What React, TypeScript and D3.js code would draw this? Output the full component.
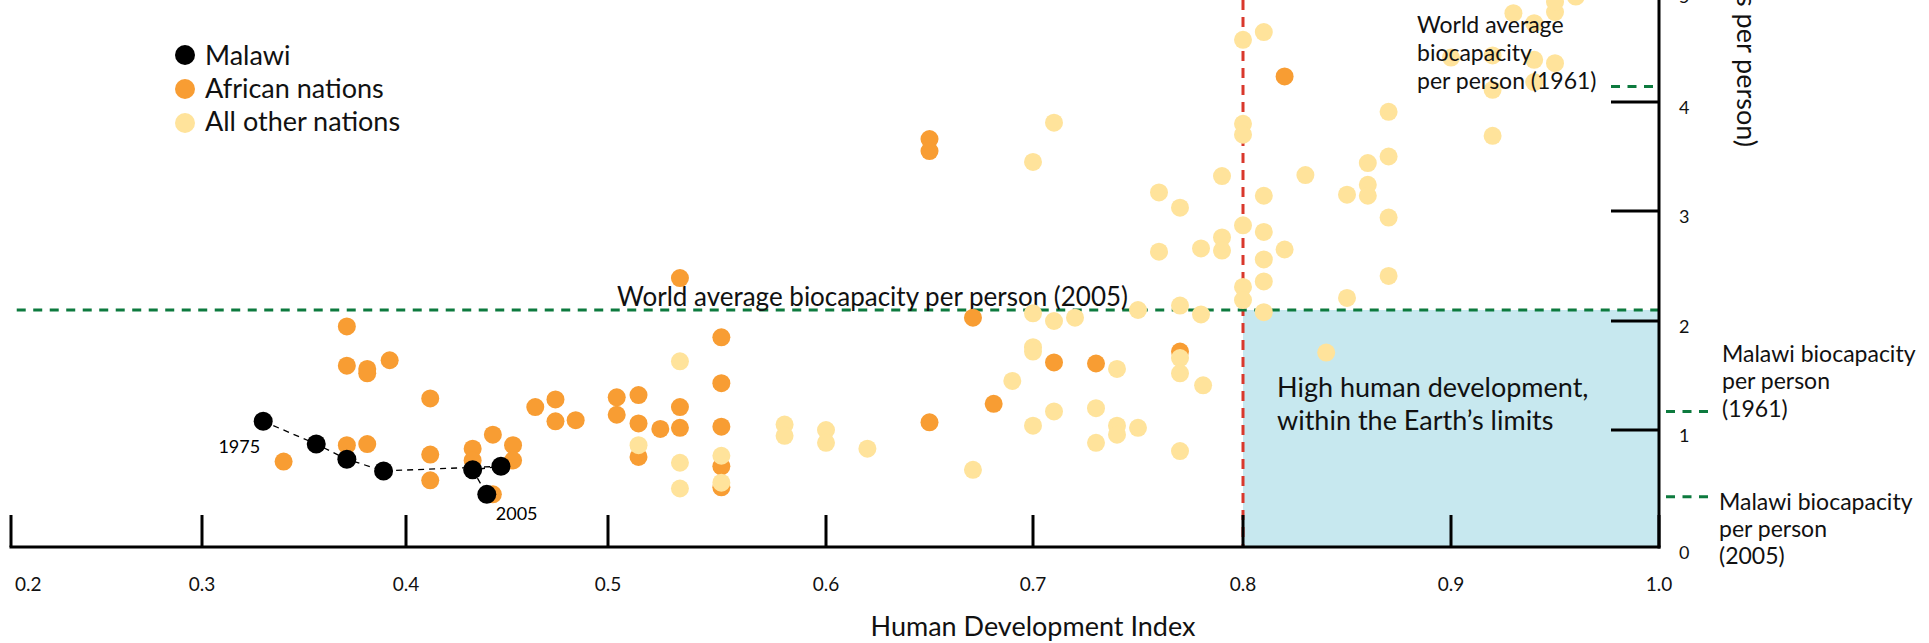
import React from "react";
import * as d3 from "d3";

const X_TICKS = [0.2, 0.3, 0.4, 0.5, 0.6, 0.7, 0.8, 0.9, 1.0];
const X_TICK_LABELS = ["0.2", "0.3", "0.4", "0.5", "0.6", "0.7", "0.8", "0.9", "1.0"];
const Y_TICKS = [0, 1, 2, 3, 4, 5];
const Y_TICK_LABELS = ["0", "1", "2", "3", "4", "5"];

const MALAWI_YEARS = [1975, 1980, 1985, 1990, 1995, 2000, 2005];
const MALAWI_HDI = [0.33, 0.356, 0.371, 0.389, 0.447, 0.433, 0.44];
const MALAWI_EF = [1.08, 0.88, 0.75, 0.65, 0.69, 0.66, 0.45];

const AFRICAN: [number, number][] = [
  [0.371, 1.95], [0.371, 1.59], [0.381, 1.56], [0.381, 1.52], [0.392, 1.64], [0.412, 1.29],
  [0.34, 0.73], [0.371, 0.87], [0.381, 0.88], [0.412, 0.79], [0.412, 0.57], [0.433, 0.84],
  [0.433, 0.74], [0.443, 0.96], [0.453, 0.87], [0.453, 0.74], [0.443, 0.45], [0.464, 1.21],
  [0.474, 1.28], [0.474, 1.08], [0.484, 1.09], [0.504, 1.3], [0.504, 1.14], [0.514, 1.32],
  [0.514, 1.06], [0.524, 1.01], [0.533, 1.21], [0.533, 1.02], [0.514, 0.77], [0.533, 2.39],
  [0.552, 1.85], [0.552, 1.43], [0.552, 1.03], [0.552, 0.69], [0.552, 0.51], [0.65, 1.07],
  [0.671, 2.03], [0.681, 1.24], [0.71, 1.62], [0.73, 1.61], [0.77, 1.72], [0.65, 3.66],
  [0.65, 3.55], [0.82, 4.23],
];

const OTHERS: [number, number][] = [
  [0.514, 0.87], [0.533, 1.63], [0.533, 0.72], [0.533, 0.5], [0.552, 0.78], [0.552, 0.55],
  [0.581, 1.05], [0.581, 0.95], [0.6, 1.0], [0.6, 0.89], [0.62, 0.84], [0.671, 0.66],
  [0.69, 1.45], [0.7, 2.07], [0.7, 1.76], [0.7, 1.72], [0.7, 1.04], [0.71, 2.0], [0.71, 1.17],
  [0.72, 2.03], [0.73, 1.2], [0.73, 0.89], [0.74, 1.56], [0.74, 1.04], [0.74, 0.96],
  [0.75, 1.02], [0.75, 2.1], [0.77, 1.66], [0.77, 1.52], [0.77, 0.82], [0.77, 2.14],
  [0.781, 1.41], [0.76, 3.17], [0.77, 3.03], [0.79, 3.32], [0.8, 3.8], [0.8, 3.7],
  [0.81, 3.14], [0.8, 2.87], [0.81, 2.81], [0.76, 2.63], [0.78, 2.66], [0.79, 2.76],
  [0.79, 2.64], [0.81, 2.56], [0.82, 2.65], [0.81, 2.36], [0.8, 2.31], [0.8, 2.19],
  [0.81, 2.08], [0.8, 4.56], [0.81, 4.63], [0.87, 3.91], [0.83, 3.33], [0.86, 3.44],
  [0.87, 3.5], [0.85, 3.15], [0.86, 3.24], [0.86, 3.14], [0.87, 2.94], [0.87, 2.41],
  [0.85, 2.21], [0.78, 2.06], [0.71, 3.81], [0.7, 3.45], [0.9, 4.4], [0.92, 4.42],
  [0.94, 4.38], [0.95, 4.35], [0.94, 4.18], [0.92, 4.11], [0.92, 3.69], [0.93, 4.8],
  [0.94, 4.71], [0.95, 4.81], [0.95, 4.9], [0.96, 4.95], [0.84, 1.71],
];

const WORLD_BIOCAP_2005 = 2.1;
const WORLD_BIOCAP_1961 = 4.14;
const MALAWI_BIOCAP_1961 = 1.17;
const MALAWI_BIOCAP_2005 = 0.43;
const HIGH_HDI = 0.8;

const LEGEND = [
  { label: "Malawi", color: "#000000" },
  { label: "African nations", color: "#f89d33" },
  { label: "All other nations", color: "#ffe39b" },
];

const FONT = "Lato, 'Open Sans', sans-serif";
const GREEN = "#0d7a3e";
const RED = "#d9382c";
const ORANGE = "#f89d33";
const YELLOW = "#ffe39b";
const BLUE = "#c7e8ef";
const R = 9;

export default function App() {
  const x = d3.scaleLinear().domain(X_TICKS).range([11, 202, 406, 608, 826, 1033, 1243, 1451, 1659]);
  const y = d3.scaleLinear().domain(Y_TICKS).range([547, 430, 321, 211, 102, -9]);
  const x0 = x(0.2);
  const x1 = x(1.0);
  const y0 = y(0);

  const malawiPts = MALAWI_HDI.map((h, i) => [x(h), y(MALAWI_EF[i])] as [number, number]);
  const line = d3.line();

  return (
    <svg
      width={1929}
      height={643}
      style={{ position: "absolute", left: 0, top: 0, background: "#fff" }}
      fontFamily={FONT}
    >
      {/* blue zone */}
      <rect
        x={x(HIGH_HDI)}
        y={y(WORLD_BIOCAP_2005)}
        width={x1 - x(HIGH_HDI)}
        height={y0 - y(WORLD_BIOCAP_2005)}
        fill={BLUE}
      />
      {/* red vertical dashed */}
      <line x1={x(HIGH_HDI)} x2={x(HIGH_HDI)} y1={0} y2={y0} stroke={RED} strokeWidth={3} strokeDasharray="10 7" />
      {/* world biocap 2005 line */}
      <line x1={x(0.203)} x2={x1} y1={y(WORLD_BIOCAP_2005)} y2={y(WORLD_BIOCAP_2005)} stroke={GREEN} strokeWidth={3} strokeDasharray="9 7.5" />
      <text x={617} y={y(WORLD_BIOCAP_2005) - 4} fontSize={26} fill="#111">World average biocapacity per person (2005)</text>

      {/* dots */}
      {AFRICAN.map((d, i) => (
        <circle key={"a" + i} cx={x(d[0])} cy={y(d[1])} r={R} fill={ORANGE} />
      ))}
      {OTHERS.map((d, i) => (
        <circle key={"o" + i} cx={x(d[0])} cy={y(d[1])} r={R} fill={YELLOW} />
      ))}
      <path d={line(malawiPts) || ""} fill="none" stroke="#000" strokeWidth={1.3} strokeDasharray="6 5" />
      {malawiPts.map((p, i) => (
        <circle key={"m" + i} cx={p[0]} cy={p[1]} r={R + 0.5} fill="#000" />
      ))}
      <text x={malawiPts[0][0] - 3} y={malawiPts[0][1] + 32} fontSize={18} textAnchor="end">{MALAWI_YEARS[0]}</text>
      <text x={malawiPts[6][0] + 9} y={malawiPts[6][1] + 26} fontSize={18}>{MALAWI_YEARS[6]}</text>

      {/* x axis */}
      <line x1={x0 - 1.5} x2={x1 + 1.5} y1={y0} y2={y0} stroke="#000" strokeWidth={3} />
      {X_TICKS.map((t, i) => (
        <g key={"xt" + i}>
          <line x1={x(t)} x2={x(t)} y1={y0} y2={y0 - 32} stroke="#000" strokeWidth={3} />
          <text
            x={i === 0 ? x(t) + 4 : x(t)}
            y={y0 + 44}
            fontSize={19}
            textAnchor={i === 0 ? "start" : "middle"}
            fill="#111"
          >
            {X_TICK_LABELS[i]}
          </text>
        </g>
      ))}
      <text x={x(0.7)} y={636} fontSize={27} textAnchor="middle" fill="#111">Human Development Index</text>

      {/* y axis */}
      <line x1={x1} x2={x1} y1={0} y2={y0 + 1.5} stroke="#000" strokeWidth={3} />
      {Y_TICKS.map((t, i) => (
        <g key={"yt" + i}>
          {t > 0 && <line x1={x1 - 48} x2={x1} y1={y(t)} y2={y(t)} stroke="#000" strokeWidth={3} />}
          <text x={x1 + 20} y={y(t) + 12} fontSize={18} fill="#111">{Y_TICK_LABELS[i]}</text>
        </g>
      ))}
      <text transform={`translate(1737,147) rotate(90)`} fontSize={27} textAnchor="end" fill="#111">
        Ecological Footprint (global hectares per person)
      </text>

      {/* world 1961 */}
      <line x1={x1 - 48} x2={x1} y1={y(WORLD_BIOCAP_1961)} y2={y(WORLD_BIOCAP_1961)} stroke={GREEN} strokeWidth={3} strokeDasharray="9 7.5" />
      <text fontSize={23} fill="#111">
        <tspan x={1417} y={33}>World average</tspan>
        <tspan x={1417} y={61}>biocapacity</tspan>
        <tspan x={1417} y={89}>per person (1961)</tspan>
      </text>

      {/* malawi biocap */}
      <line x1={x1 + 7} x2={x1 + 52} y1={y(MALAWI_BIOCAP_1961)} y2={y(MALAWI_BIOCAP_1961)} stroke={GREEN} strokeWidth={3} strokeDasharray="9 7.5" />
      <text fontSize={23} fill="#111">
        <tspan x={1722} y={362}>Malawi biocapacity</tspan>
        <tspan x={1722} y={389}>per person</tspan>
        <tspan x={1722} y={417}>(1961)</tspan>
      </text>
      <line x1={x1 + 7} x2={x1 + 52} y1={y(MALAWI_BIOCAP_2005)} y2={y(MALAWI_BIOCAP_2005)} stroke={GREEN} strokeWidth={3} strokeDasharray="9 7.5" />
      <text fontSize={23} fill="#111">
        <tspan x={1719} y={510}>Malawi biocapacity</tspan>
        <tspan x={1719} y={537}>per person</tspan>
        <tspan x={1719} y={564}>(2005)</tspan>
      </text>

      {/* zone label */}
      <text fontSize={27} fill="#111">
        <tspan x={1277} y={397}>High human development,</tspan>
        <tspan x={1277} y={430}>within the Earth’s limits</tspan>
      </text>

      {/* legend */}
      {LEGEND.map((l, i) => (
        <g key={"lg" + i}>
          <circle cx={185} cy={55 + i * 34} r={10} fill={l.color} />
          <text x={205} y={65 + i * 33} fontSize={27} fill="#111">{l.label}</text>
        </g>
      ))}
    </svg>
  );
}
